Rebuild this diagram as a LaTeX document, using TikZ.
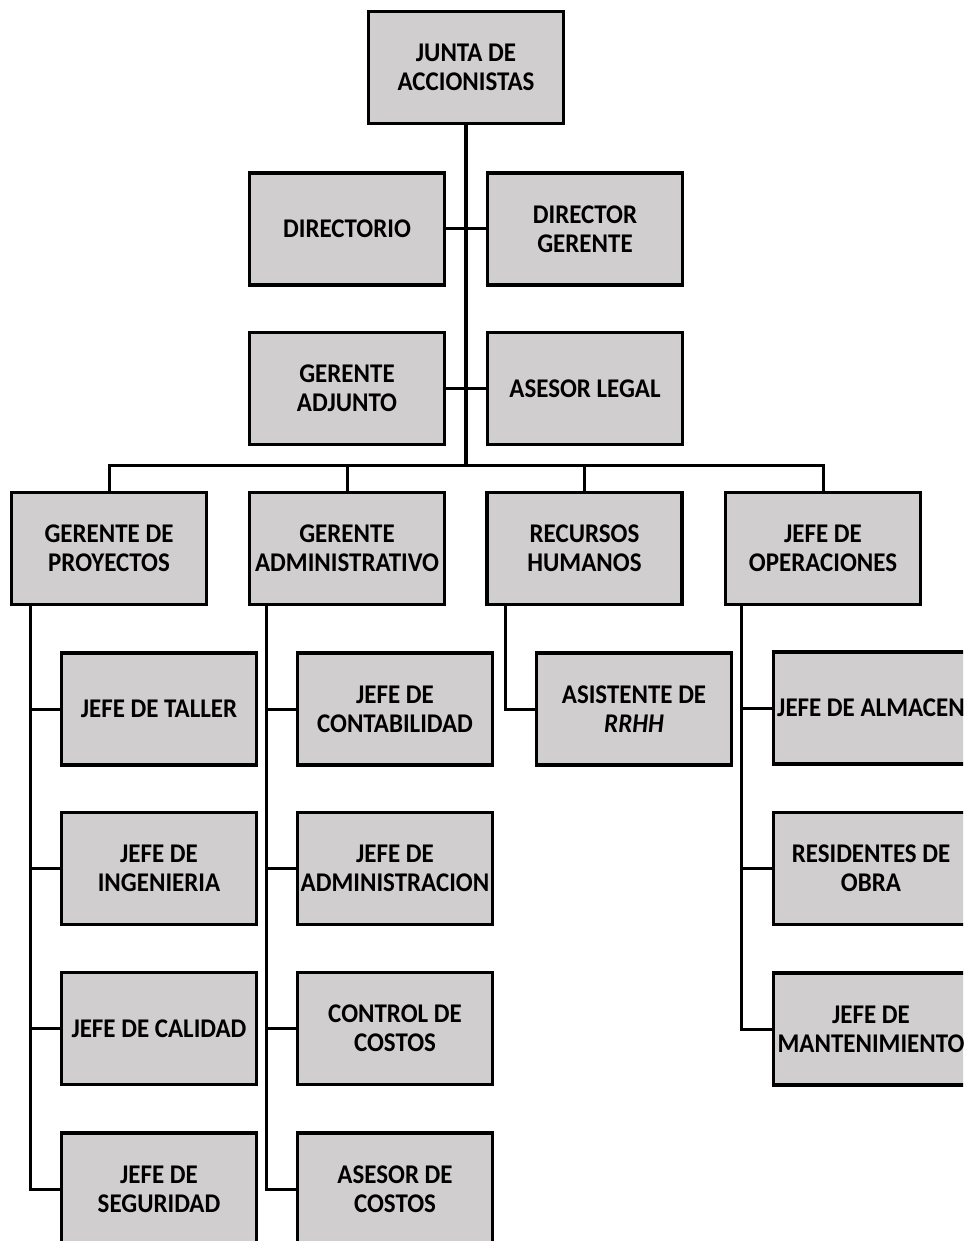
\documentclass[tikz,border=0pt]{standalone}
\usepackage{fontspec}
\setmainfont{Carlito}[FakeStretch=0.925]
\definecolor{boxgray}{RGB}{208,206,206}
\begin{document}
\begin{tikzpicture}[x=1pt,y=-1pt,
  orgbox/.style={draw=black, line width=3.4pt, fill=boxgray, rectangle,
    minimum width=195pt, minimum height=112pt, inner sep=0pt, align=center,
    font=\fontsize{27}{29}\selectfont\bfseries},
  link/.style={line width=3pt, draw=black},
  trunk/.style={line width=3.8pt, draw=black}]
\useasboundingbox (0,0) rectangle (963,1241);
\clip (0,0) rectangle (963,1241);
\fill[white] (0,0) rectangle (963,1241);
% nodes
\node[orgbox] (junta) at (466,67.5) {JUNTA DE\\ACCIONISTAS};
\node[orgbox] (directorio) at (347,229) {DIRECTORIO};
\node[orgbox] (dirger) at (585,229) {DIRECTOR\\GERENTE};
\node[orgbox] (geradj) at (347,388.5) {GERENTE\\ADJUNTO};
\node[orgbox] (aslegal) at (585,388.5) {ASESOR LEGAL};
\node[orgbox] (gproy) at (109,548.5) {GERENTE DE\\PROYECTOS};
\node[orgbox] (gadm) at (347,548.5) {GERENTE\\ADMINISTRATIVO};
\node[orgbox] (rrhh) at (584.5,548.5) {RECURSOS\\HUMANOS};
\node[orgbox] (jops) at (823,548.5) {JEFE DE\\OPERACIONES};
\node[orgbox] (jtaller) at (159,709) {JEFE DE TALLER};
\node[orgbox] (jing) at (159,868.5) {JEFE DE\\INGENIERIA};
\node[orgbox] (jcal) at (159,1028.5) {JEFE DE CALIDAD};
\node[orgbox] (jseg) at (159,1189) {JEFE DE\\SEGURIDAD};
\node[orgbox] (jcont) at (395,709) {JEFE DE\\CONTABILIDAD};
\node[orgbox] (jadmin) at (395,868.5) {JEFE DE\\ADMINISTRACION};
\node[orgbox] (ccost) at (395,1028.5) {CONTROL DE\\COSTOS};
\node[orgbox] (acost) at (395,1189) {ASESOR DE\\COSTOS};
\node[orgbox] (asist) at (634,709) {ASISTENTE DE\\\textit{RRHH}};
\node[orgbox] (jalm) at (871,708) {JEFE DE ALMACEN};
\node[orgbox] (resid) at (871,868.5) {RESIDENTES DE\\OBRA};
\node[orgbox] (jmant) at (871,1029) {JEFE DE\\MANTENIMIENTO};
\coordinate (bus) at (466,465);
% trunk
\draw[trunk] (junta.south) -- (bus);
\draw[link] (directorio.east) -- (dirger.west);
\draw[link] (geradj.east) -- (aslegal.west);
\draw[link] (bus) -| (gproy.north);
\draw[link] (bus) -| (gadm.north);
\draw[link] (bus) -| (rrhh.north);
\draw[link] (bus) -| (jops.north);
% sub branches
\foreach \c in {jtaller,jing,jcal,jseg}
  \draw[link] ([xshift=21pt]gproy.south west) |- (\c.west);
\foreach \c in {jcont,jadmin,ccost,acost}
  \draw[link] ([xshift=19pt]gadm.south west) |- (\c.west);
\draw[link] ([xshift=20pt]rrhh.south west) |- (asist.west);
\foreach \c in {jalm,resid,jmant}
  \draw[link] ([xshift=18pt]jops.south west) |- (\c.west);
\end{tikzpicture}
\end{document}
